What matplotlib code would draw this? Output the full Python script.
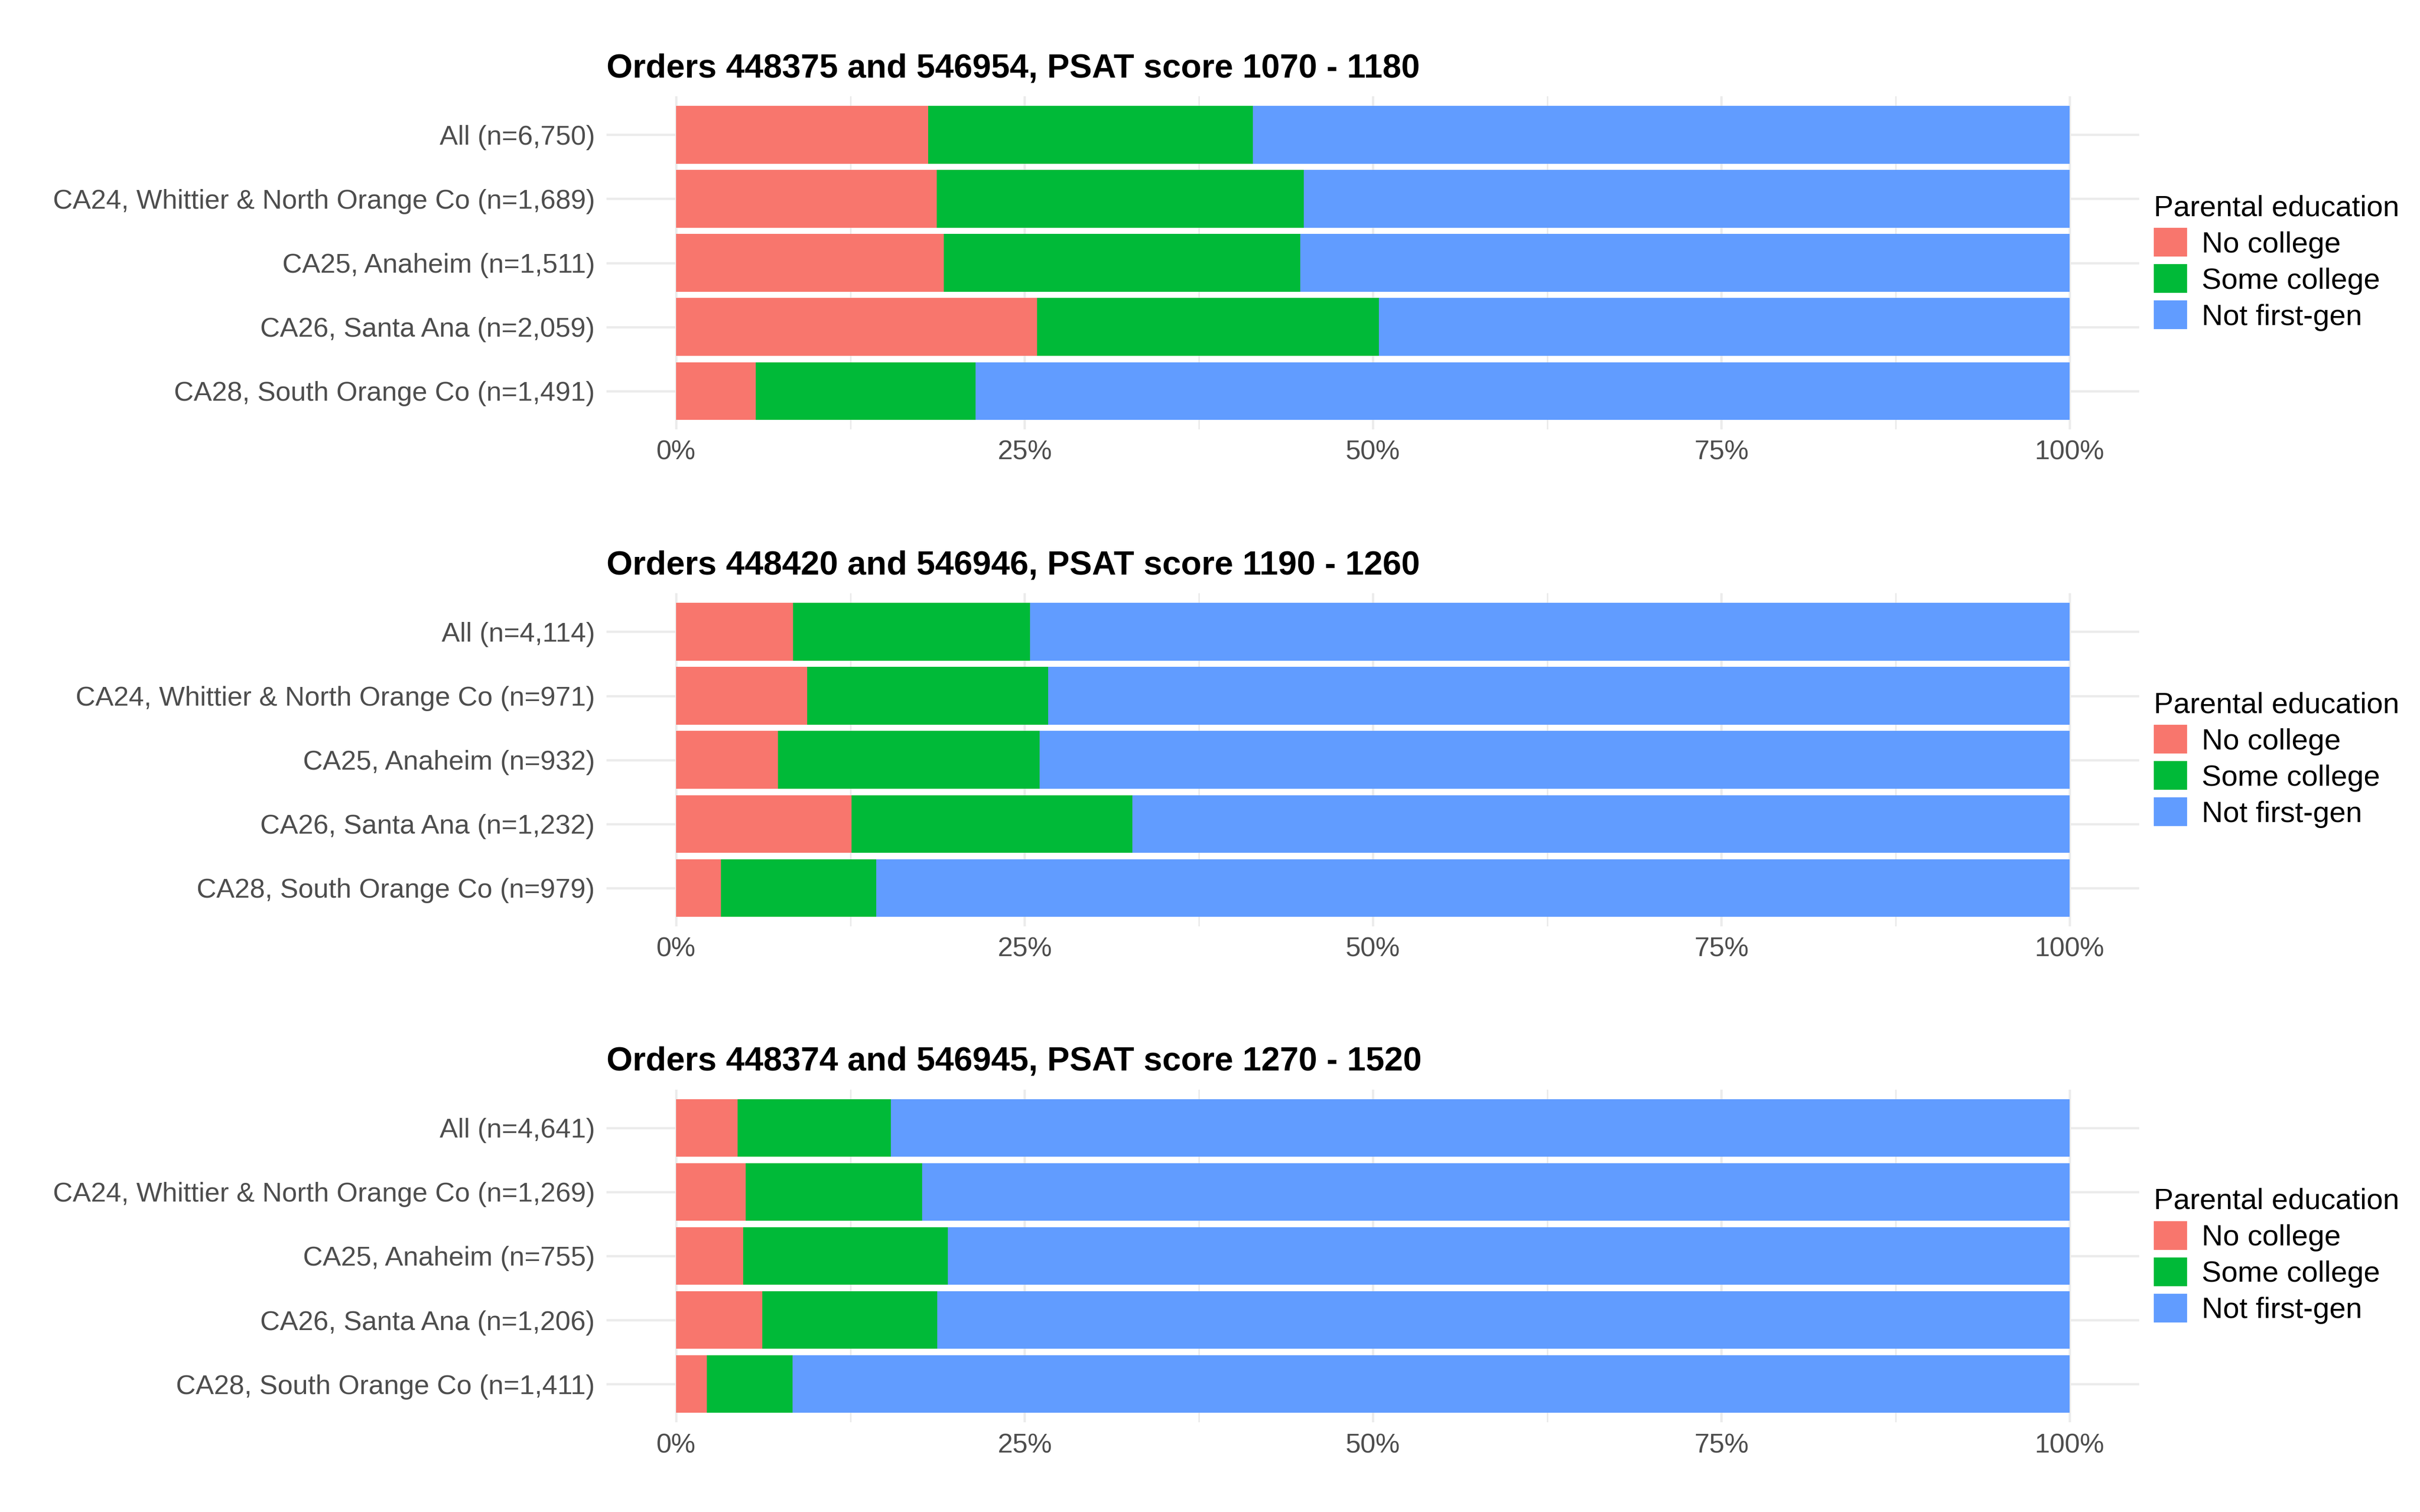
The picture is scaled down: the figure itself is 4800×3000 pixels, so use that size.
import matplotlib
matplotlib.use('Agg')
import matplotlib.pyplot as plt
from matplotlib.patches import Patch
from matplotlib.ticker import FixedLocator, PercentFormatter
import numpy as np

plt.rcParams['font.family'] = ['Liberation Sans', 'DejaVu Sans']

# 数据
groups = ['All', 'CA24, Whittier & North Orange Co', 'CA25, Anaheim', 'CA26, Santa Ana', 'CA28, South Orange Co']
titles = ['Orders 448375 and 546954, PSAT score 1070 - 1180',
          'Orders 448420 and 546946, PSAT score 1190 - 1260',
          'Orders 448374 and 546945, PSAT score 1270 - 1520']
n_counts = [[6750, 1689, 1511, 2059, 1491],
            [4114, 971, 932, 1232, 979],
            [4641, 1269, 755, 1206, 1411]]
# 百分比 (%)
no_college = [[18.1, 18.7, 19.2, 25.9, 5.7],
              [8.4, 9.4, 7.3, 12.6, 3.2],
              [4.4, 5.0, 4.8, 6.2, 2.2]]
some_college = [[23.3, 26.35, 25.6, 24.55, 15.8],
                [17.0, 17.3, 18.8, 20.15, 11.15],
                [11.0, 12.65, 14.7, 12.55, 6.15]]
not_first_gen = [[58.6, 54.95, 55.2, 49.55, 78.5],
                 [74.6, 73.3, 73.9, 67.25, 85.65],
                 [84.6, 82.35, 80.5, 81.25, 91.65]]
categories = ['No college', 'Some college', 'Not first-gen']
colors = ['#F8766D', '#00BA38', '#619CFF']

fig = plt.figure(figsize=(16, 10), dpi=300)

# 面板位置
bottoms = [0.716, 0.3873, 0.0592]
left, width, height = 0.2506, 0.6334, 0.2203

for i in range(3):
    ax = fig.add_axes([left, bottoms[i], width, height])
    y = np.arange(len(groups))
    labels = [f'{g} (n={n:,})' for g, n in zip(groups, n_counts[i])]
    series = [no_college[i], some_college[i], not_first_gen[i]]
    start = np.zeros(len(groups))
    for vals, c, cat in zip(series, colors, categories):
        vals = np.array(vals) / 100
        ax.barh(y, vals, left=start, height=0.9, color=c, label=cat, zorder=2)
        start = start + vals

    ax.set_xlim(-0.05, 1.05)
    ax.set_ylim(len(groups) - 0.4, -0.6)
    ax.set_yticks(y)
    ax.set_yticklabels(labels)
    ax.set_xticks([0, 0.25, 0.5, 0.75, 1.0])
    ax.xaxis.set_major_formatter(PercentFormatter(1.0, decimals=0))
    ax.xaxis.set_minor_locator(FixedLocator([0.125, 0.375, 0.625, 0.875]))

    # 网格 (theme_minimal 风格)
    ax.grid(True, which='major', color='#EBEBEB', linewidth=1.1, zorder=0)
    ax.grid(True, which='minor', axis='x', color='#EBEBEB', linewidth=0.7, zorder=0)
    ax.set_axisbelow(True)
    for s in ax.spines.values():
        s.set_visible(False)
    ax.tick_params(which='both', length=0)
    ax.tick_params(axis='y', pad=5.5, labelsize=13, labelcolor='#4D4D4D')
    ax.tick_params(axis='x', pad=5, labelsize=13, labelcolor='#4D4D4D')

    ax.set_title(titles[i], loc='left', fontsize=16, fontweight='bold', pad=9)

    handles = [Patch(facecolor=c, edgecolor='none') for c in colors]
    leg = ax.legend(handles, categories, title='Parental education', loc='center left',
                    bbox_to_anchor=(1.0036, 0.5), frameon=False, fontsize=14,
                    title_fontsize=14, handlelength=1.13, handleheight=1.13,
                    labelspacing=0.2, handletextpad=0.5, borderpad=0.3,
                    borderaxespad=0, alignment='left')

fig.savefig('out.png', dpi=300)
